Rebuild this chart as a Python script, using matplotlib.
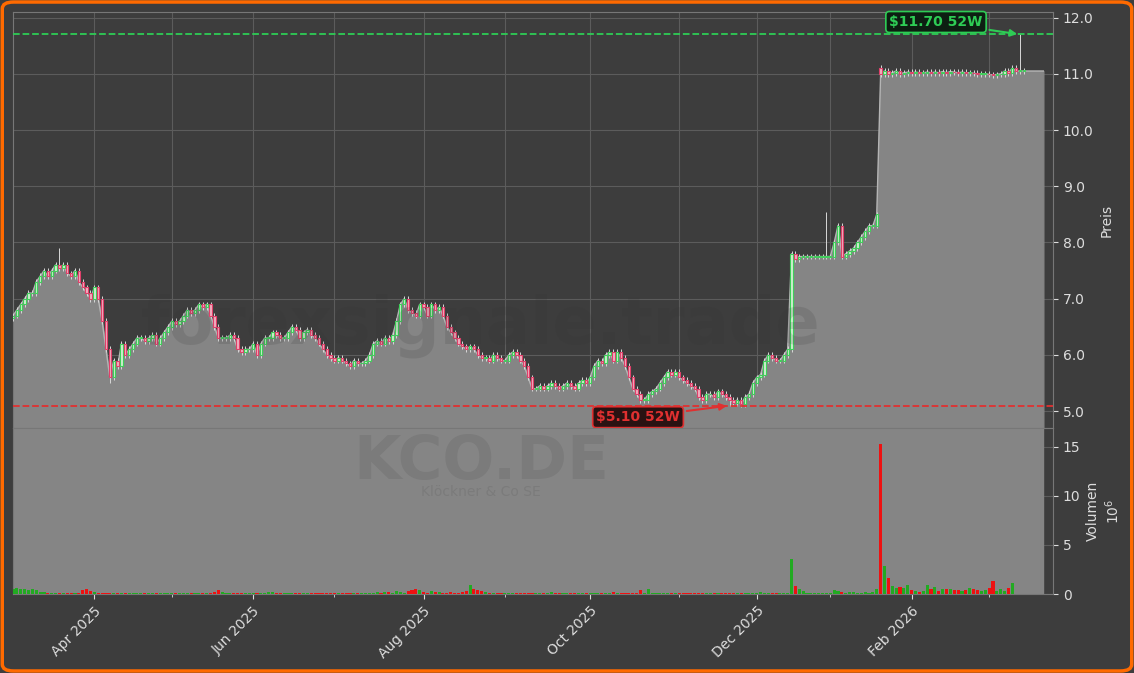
import matplotlib
matplotlib.use("Agg")
import matplotlib.pyplot as plt
from matplotlib.patches import FancyBboxPatch, Rectangle
from matplotlib.ticker import FormatStrFormatter
import numpy as np
import pandas as pd

# daily closes per trading day (Xetra calendar) from Mon 2025-03-03
closes = [
    6.7, 6.8, 6.9, 7.0, 7.1,
    7.1, 7.3, 7.4, 7.5, 7.4,
    7.5, 7.6, 7.55, 7.6, 7.45,
    7.4, 7.5, 7.3, 7.2, 7.1,
    7.0, 7.2, 7.0, 6.6, 6.1,
    5.6, 5.9, 5.8, 6.2, 6.0,
    6.1, 6.2, 6.3, 6.3, 6.25,
    6.3, 6.35, 6.2, 6.3, 6.4,
    6.5, 6.6, 6.55, 6.6, 6.7,
    6.8, 6.75, 6.8, 6.9, 6.85,
    6.9, 6.7, 6.5, 6.3, 6.3,
    6.3, 6.35, 6.3, 6.1, 6.05,
    6.1, 6.1, 6.2, 6.0, 6.2,
    6.3, 6.3, 6.4, 6.35, 6.3,
    6.3, 6.4, 6.5, 6.45, 6.3,
    6.4, 6.45, 6.35, 6.3, 6.2,
    6.1, 6.0, 5.95, 5.9, 5.95,
    5.9, 5.85, 5.8, 5.9, 5.85,
    5.85, 5.9, 6.0, 6.2, 6.25,
    6.2, 6.3, 6.25, 6.35, 6.6,
    6.9, 7.0, 6.8, 6.75, 6.7,
    6.9, 6.85, 6.7, 6.9, 6.8,
    6.85, 6.7, 6.5, 6.4, 6.3,
    6.2, 6.15, 6.1, 6.15, 6.1,
    6.0, 5.95, 5.95, 5.9, 6.0,
    5.95, 5.9, 5.9, 6.0, 6.05,
    6.0, 5.9, 5.8, 5.6, 5.4,
    5.4, 5.45, 5.4, 5.45, 5.5,
    5.45, 5.4, 5.45, 5.5, 5.45,
    5.4, 5.5, 5.55, 5.5, 5.6,
    5.8, 5.9, 5.85, 6.0, 6.05,
    5.9, 6.05, 5.95, 5.8, 5.6,
    5.4, 5.3, 5.2, 5.2, 5.3,
    5.35, 5.4, 5.5, 5.6, 5.7,
    5.65, 5.7, 5.6, 5.55, 5.5,
    5.45, 5.4, 5.25, 5.2, 5.3,
    5.3, 5.25, 5.35, 5.3, 5.25,
    5.2, 5.15, 5.2, 5.12, 5.25,
    5.3, 5.5, 5.6, 5.65, 5.9,
    6.0, 5.95, 5.9, 5.9, 6.0,
    6.1, 7.8, 7.7, 7.75, 7.75,
    7.75, 7.75, 7.75, 7.75, 7.75,
    7.75, 7.75,
    8.0, 8.3, 7.75, 7.8, 7.85,
    7.9, 8.0, 8.1, 8.2, 8.3,
    8.3, 8.5, 11.0, 11.05, 11.0,
    11.02, 11.05, 11.0, 11.02, 11.03,
    11.02, 11.03, 11.02, 11.02, 11.03,
    11.02, 11.03, 11.02, 11.04, 11.02,
    11.04, 11.03, 11.02, 11.03, 11.02,
    11.02, 11.01, 11.0, 11.0, 11.0,
    10.99, 10.98, 10.99, 11.0, 11.05,
    11.02, 11.1, 11.05, 11.05, 11.05,
    11.05, 11.05, 11.05, 11.05, 11.05,
]

# volume in millions, same days
volumes = [
    0.5, 0.6, 0.5, 0.5, 0.4,
    0.5, 0.4, 0.2, 0.2, 0.1,
    0.1, 0.1, 0.1, 0.1, 0.1,
    0.1, 0.1, 0.1, 0.4, 0.5,
    0.3, 0.2, 0.1, 0.1, 0.1,
    0.1, 0.1, 0.1, 0.1, 0.1,
    0.1, 0.1, 0.1, 0.1, 0.1,
    0.1, 0.1, 0.1, 0.1, 0.1,
    0.1, 0.1, 0.1, 0.1, 0.1,
    0.1, 0.1, 0.1, 0.1, 0.1,
    0.1, 0.1, 0.2, 0.4, 0.2,
    0.1, 0.1, 0.1, 0.1, 0.1,
    0.1, 0.1, 0.1, 0.1, 0.1,
    0.1, 0.2, 0.2, 0.1, 0.1,
    0.1, 0.1, 0.1, 0.1, 0.1,
    0.1, 0.1, 0.1, 0.1, 0.1,
    0.1, 0.1, 0.1, 0.1, 0.1,
    0.1, 0.1, 0.1, 0.1, 0.1,
    0.1, 0.1, 0.1, 0.1, 0.2,
    0.1, 0.2, 0.2, 0.1, 0.3,
    0.2, 0.1, 0.3, 0.4, 0.5,
    0.4, 0.2, 0.1, 0.3, 0.2,
    0.2, 0.1, 0.1, 0.2, 0.1,
    0.1, 0.2, 0.3, 0.9, 0.5,
    0.4, 0.3, 0.2, 0.1, 0.1,
    0.1, 0.1, 0.1, 0.1, 0.1,
    0.1, 0.1, 0.1, 0.1, 0.1,
    0.1, 0.1, 0.1, 0.1, 0.2,
    0.1, 0.1, 0.1, 0.1, 0.1,
    0.1, 0.1, 0.1, 0.1, 0.1,
    0.1, 0.1, 0.1, 0.1, 0.1,
    0.2, 0.1, 0.1, 0.1, 0.1,
    0.1, 0.1, 0.4, 0.1, 0.5,
    0.1, 0.1, 0.1, 0.1, 0.1,
    0.1, 0.1, 0.1, 0.1, 0.1,
    0.1, 0.1, 0.1, 0.1, 0.1,
    0.1, 0.1, 0.1, 0.1, 0.1,
    0.1, 0.1, 0.1, 0.1, 0.1,
    0.1, 0.1, 0.1, 0.2, 0.1,
    0.1, 0.1, 0.1, 0.1, 0.1,
    0.1, 3.6, 0.8, 0.5, 0.3,
    0.1, 0.1, 0.1, 0.1, 0.1,
    0.1, 0.1,
    0.4, 0.3, 0.2, 0.1, 0.2,
    0.2, 0.1, 0.1, 0.2, 0.1,
    0.2, 0.5, 15.3, 2.9, 1.6,
    0.8, 0.6, 0.7, 0.6, 0.9,
    0.4, 0.3, 0.2, 0.3, 0.9,
    0.5, 0.7, 0.3, 0.5, 0.5,
    0.5, 0.4, 0.4, 0.3, 0.4,
    0.6, 0.5, 0.4, 0.3, 0.4,
    0.6, 1.3, 0.3, 0.5, 0.3,
    0.6, 1.1, 0.0, 0.0, 0.0,
    0.0, 0.0, 0.0, 0.0, 0.0,
]

start_date = "2025-03-03"
holidays = ["2025-04-18", "2025-04-21", "2025-05-01", "2025-12-24", "2025-12-25",
            "2025-12-26", "2025-12-31", "2026-01-01"]
jump_open = 11.1  # the gap day opened above its close
special_highs = {"2025-03-19": 7.9, "2025-12-30": 8.55, "2026-03-12": 11.70}
special_lows = {"2025-04-07": 5.5, "2025-11-20": 5.10}
high_52w = 11.70
low_52w = 5.10
high_52w_date = "2026-03-12"
low_52w_date = "2025-11-20"
month_labels = {2: "Feb", 4: "Apr", 6: "Jun", 8: "Aug", 10: "Oct", 12: "Dec"}

cal = pd.offsets.CustomBusinessDay(holidays=holidays)
dates = pd.date_range(start_date, periods=len(closes), freq=cal)
x = np.arange(len(closes))
close = np.array(closes)
opens = np.concatenate([[close[0] - 0.05], close[:-1]])
opens[int(np.argmax(close >= 10.5))] = jump_open
highs = np.maximum(opens, close) + 0.05
lows = np.minimum(opens, close) - 0.05
for d, v in special_highs.items():
    highs[dates.get_loc(pd.Timestamp(d))] = v
for d, v in special_lows.items():
    lows[dates.get_loc(pd.Timestamp(d))] = v
n_candles = len(closes) - 5  # last week is only the flat fill

BG = "#3d3d3d"
FILL = "#858585"
fig = plt.figure(figsize=(11.34, 6.73), dpi=100, facecolor=BG)
fig.patches.append(FancyBboxPatch((0.002, 0.003), 0.996, 0.994, boxstyle="round,pad=0,rounding_size=0.01",
                                  transform=fig.transFigure, fill=False, edgecolor="#ff6a00", lw=2.5))
L, R = 13 / 1134, 1053 / 1134
ax = fig.add_axes([L, 1 - 428 / 673, R - L, (428 - 12) / 673])
axv = fig.add_axes([L, 1 - 594 / 673, R - L, (594 - 428) / 673], sharex=ax)

# month ticks on first trading day of each month
firsts = pd.Series(x, index=dates).groupby([dates.year, dates.month]).first()
minor_pos = [p for (yy, mm), p in firsts.items() if p > 0]
major = [(p, f"{month_labels[mm]} {yy}") for (yy, mm), p in firsts.items() if mm in month_labels and p > 0]

for a in (ax, axv):
    a.set_facecolor(BG)
    a.set_xticks(minor_pos, minor=True)
    a.set_xticks([p for p, _ in major])
    a.grid(which="both", color="#5c5c5c", lw=0.8)
    a.set_axisbelow(True)
    a.yaxis.tick_right()
    a.yaxis.set_label_position("right")
    a.tick_params(colors="#dddddd", labelsize=10)
    a.tick_params(which="minor", colors="#dddddd")
    for s in a.spines.values():
        s.set_color("#777777")

ymin = 4.7
ax.fill_between(x, close, ymin, color=FILL, zorder=1)
ax.plot(x, close, color="#b5b5b5", lw=1, zorder=2)
w = 0.6
for i in range(n_candles):
    up = close[i] >= opens[i]
    ec = "#3fcf5a" if up else "#e0406a"
    fc = "#cfeecf" if up else "#f0b0c0"
    ax.vlines(x[i], lows[i], highs[i], color="#d8d8d8", lw=0.7, zorder=3)
    b0 = min(opens[i], close[i])
    ax.add_patch(Rectangle((x[i] - w / 2, b0), w, max(abs(close[i] - opens[i]), 0.01),
                           facecolor=fc, edgecolor=ec, lw=0.8, zorder=4))

ax.axhline(high_52w, color="#2ecc55", ls="--", lw=1.3, zorder=5)
ax.axhline(low_52w, color="#e03030", ls="--", lw=1.3, zorder=5)
ax.annotate(f"${high_52w:.2f} 52W", xy=(dates.get_loc(pd.Timestamp(high_52w_date)), high_52w),
            xytext=(0.8875, 0.976), textcoords="axes fraction", ha="center", va="center",
            color="#2ecc55", fontsize=10, fontweight="bold", zorder=7,
            bbox=dict(boxstyle="round,pad=0.25", fc="#0d1f12", ec="#2ecc55", lw=1.2),
            arrowprops=dict(arrowstyle="-|>", color="#2ecc55", lw=1.5))
ax.annotate(f"${low_52w:.2f} 52W", xy=(dates.get_loc(pd.Timestamp(low_52w_date)), low_52w),
            xytext=(0.601, 0.026), textcoords="axes fraction", ha="center", va="center",
            color="#e03030", fontsize=10, fontweight="bold", zorder=7,
            bbox=dict(boxstyle="round,pad=0.25", fc="#2a1212", ec="#e03030", lw=1.2),
            arrowprops=dict(arrowstyle="-|>", color="#e03030", lw=1.5))

ax.text(0.45, 0.245, "forexsignale.trade", transform=ax.transAxes, ha="center", va="center",
        fontsize=47, fontweight="bold", color="#333333", alpha=0.15, zorder=6)
ax.set_ylim(ymin, 12.1)
ax.set_yticks(np.arange(5, 12.01, 1))
ax.yaxis.set_major_formatter(FormatStrFormatter("%.1f"))
ax.set_ylabel("Preis", color="#dddddd", fontsize=10)
plt.setp(ax.get_xticklabels(), visible=False)

axv.axvspan(x[0], x[-1], color=FILL, zorder=1)
vol = np.array(volumes)
vcol = ["#22aa22" if c >= o else "#ee1111" for c, o in zip(close, opens)]
axv.bar(x, vol, width=0.8, color=vcol, zorder=3)
axv.set_ylim(0, 16.9)
axv.set_yticks([0, 5, 10, 15])
axv.set_ylabel("Volumen\n$10^6$", color="#dddddd", fontsize=10)
axv.text(0.45, 0.79, "KCO.DE", transform=axv.transAxes, ha="center", va="center",
         fontsize=44, fontweight="bold", color="#333333", alpha=0.12, zorder=2)
axv.text(0.45, 0.615, "Klöckner & Co SE", transform=axv.transAxes, ha="center", va="center",
         fontsize=10, color="#333333", alpha=0.12, zorder=2)

axv.set_xlim(0, len(closes) + 1.5)
axv.set_xticklabels([lab for _, lab in major], rotation=45, ha="right", rotation_mode="anchor")

fig.savefig("out.png", dpi=100, facecolor=BG)
